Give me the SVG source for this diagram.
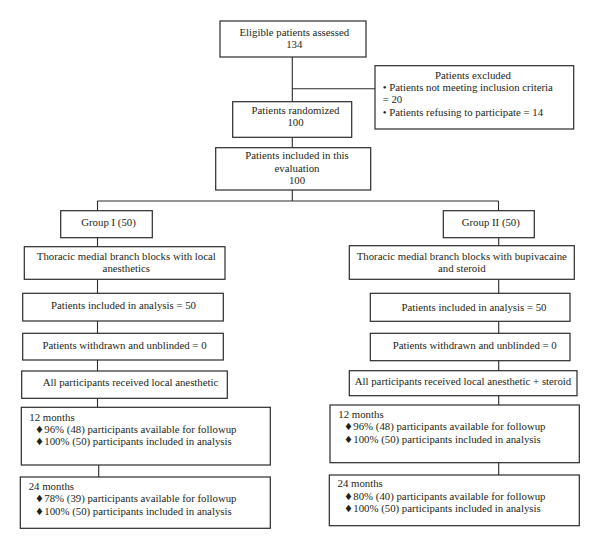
<svg xmlns="http://www.w3.org/2000/svg" width="600" height="549" viewBox="0 0 600 549">
<style>
rect{fill:#fff;stroke:#2b2b2b;stroke-width:1.2}
line{stroke:#2b2b2b;stroke-width:1.1}
text{font-family:"Liberation Serif","DejaVu Serif",serif;font-size:10.8px;fill:#231f20}
.c{text-anchor:middle}
.d{font-family:"DejaVu Sans",sans-serif;font-size:10px}
</style>
<rect x="0" y="0" width="600" height="549" style="stroke:none"/>
<g id="connectors">
<line x1="292.3" y1="57" x2="292.3" y2="101.7"/>
<line x1="292.3" y1="88.7" x2="375" y2="88.7"/>
<line x1="292.3" y1="137.3" x2="292.3" y2="147.7"/>
<line x1="292.3" y1="190" x2="292.3" y2="201"/>
<line x1="97.5" y1="201" x2="498.5" y2="201"/>
<line x1="97.5" y1="201" x2="97.5" y2="210.7"/>
<line x1="498.5" y1="201" x2="498.5" y2="210.7"/>
<line x1="97.5" y1="237.7" x2="97.5" y2="246.7"/>
<line x1="97.5" y1="279.3" x2="97.5" y2="293.3"/>
<line x1="97.5" y1="321" x2="97.5" y2="333.3"/>
<line x1="97.5" y1="360" x2="97.5" y2="371"/>
<line x1="97.5" y1="398.3" x2="97.5" y2="407.3"/>
<line x1="98.7" y1="465" x2="98.7" y2="477"/>
<line x1="498.7" y1="237.7" x2="498.7" y2="245.7"/>
<line x1="498.7" y1="279.3" x2="498.7" y2="293.3"/>
<line x1="498.7" y1="321.3" x2="498.7" y2="333.3"/>
<line x1="498.7" y1="360.7" x2="498.7" y2="370.7"/>
<line x1="498.7" y1="395.7" x2="498.7" y2="405"/>
<line x1="498.7" y1="462.7" x2="498.7" y2="475"/>
</g>
<g id="eligible">
<rect x="220" y="21" width="146" height="36"/>
<text class="c" x="294.3" y="36">Eligible patients assessed</text>
<text class="c" x="294.3" y="48">134</text>
</g>
<g id="excluded">
<rect x="375" y="65.7" width="198.7" height="63.3"/>
<text class="c" x="473" y="79">Patients excluded</text>
<text x="382.7" y="91">• Patients not meeting inclusion criteria</text>
<text x="382.7" y="103">= 20</text>
<text x="382.7" y="115.5">• Patients refusing to participate = 14</text>
</g>
<g id="randomized">
<rect x="232.7" y="101.7" width="119" height="35.6"/>
<text class="c" x="295.5" y="114">Patients randomized</text>
<text class="c" x="295.5" y="126">100</text>
</g>
<g id="included">
<rect x="215.7" y="147.7" width="155" height="42.3"/>
<text class="c" x="297" y="159.3">Patients included in this</text>
<text class="c" x="297" y="171.7">evaluation</text>
<text class="c" x="297" y="184">100</text>
</g>
<g id="group1">
<rect x="60.7" y="210.7" width="91.6" height="27"/>
<text class="c" x="108.5" y="226">Group I (50)</text>
</g>
<g id="thoracic1">
<rect x="24.3" y="246.7" width="200.7" height="32.6"/>
<text class="c" x="126.3" y="260">Thoracic medial branch blocks with local</text>
<text class="c" x="126.3" y="271.7">anesthetics</text>
</g>
<g id="analysis1">
<rect x="22.7" y="293.3" width="200.6" height="27.7"/>
<text class="c" x="123.5" y="309.3">Patients included in analysis = 50</text>
</g>
<g id="withdrawn1">
<rect x="22.7" y="333.3" width="200.6" height="26.7"/>
<text class="c" x="124.5" y="349.3">Patients withdrawn and unblinded = 0</text>
</g>
<g id="received1">
<rect x="21.7" y="371" width="205.6" height="27.3"/>
<text class="c" x="130.5" y="386">All participants received local anesthetic</text>
</g>
<g id="m12a">
<rect x="21.3" y="407.3" width="249" height="57.7"/>
<text x="29.3" y="420.7">12 months</text>
<text class="d" x="35" y="432.7">♦</text><text x="44.3" y="432.7">96% (48) participants available for followup</text>
<text class="d" x="35" y="445">♦</text><text x="44.3" y="445">100% (50) participants included in analysis</text>
</g>
<g id="m24a">
<rect x="20.3" y="477" width="250" height="51.3"/>
<text x="28.7" y="490">24 months</text>
<text class="d" x="35" y="501.7">♦</text><text x="44.3" y="501.7">78% (39) participants available for followup</text>
<text class="d" x="35" y="515">♦</text><text x="44.3" y="515">100% (50) participants included in analysis</text>
</g>
<g id="group2">
<rect x="443.3" y="210.7" width="91" height="27"/>
<text class="c" x="490.8" y="226">Group II (50)</text>
</g>
<g id="thoracic2">
<rect x="349.3" y="245.7" width="225" height="33.6"/>
<text class="c" x="461.8" y="260">Thoracic medial branch blocks with bupivacaine</text>
<text class="c" x="461.8" y="271.7">and steroid</text>
</g>
<g id="analysis2">
<rect x="370.3" y="293.3" width="199.7" height="28"/>
<text class="c" x="474" y="310.7">Patients included in analysis = 50</text>
</g>
<g id="withdrawn2">
<rect x="370.3" y="333.3" width="199.7" height="27.4"/>
<text class="c" x="474.7" y="349.3">Patients withdrawn and unblinded = 0</text>
</g>
<g id="received2">
<rect x="349.3" y="370.7" width="227.7" height="25"/>
<text class="c" x="463" y="385.3">All participants received local anesthetic + steroid</text>
</g>
<g id="m12b">
<rect x="330" y="405" width="249.3" height="57.7"/>
<text x="338.3" y="417.7">12 months</text>
<text class="d" x="344" y="430">♦</text><text x="353.3" y="430">96% (48) participants available for followup</text>
<text class="d" x="344" y="442.7">♦</text><text x="353.3" y="442.7">100% (50) participants included in analysis</text>
</g>
<g id="m24b">
<rect x="329.3" y="475" width="250" height="50.7"/>
<text x="337.5" y="487.3">24 months</text>
<text class="d" x="344" y="499.7">♦</text><text x="353.3" y="499.7">80% (40) participants available for followup</text>
<text class="d" x="344" y="512.3">♦</text><text x="353.3" y="512.3">100% (50) participants included in analysis</text>
</g>
</svg>
